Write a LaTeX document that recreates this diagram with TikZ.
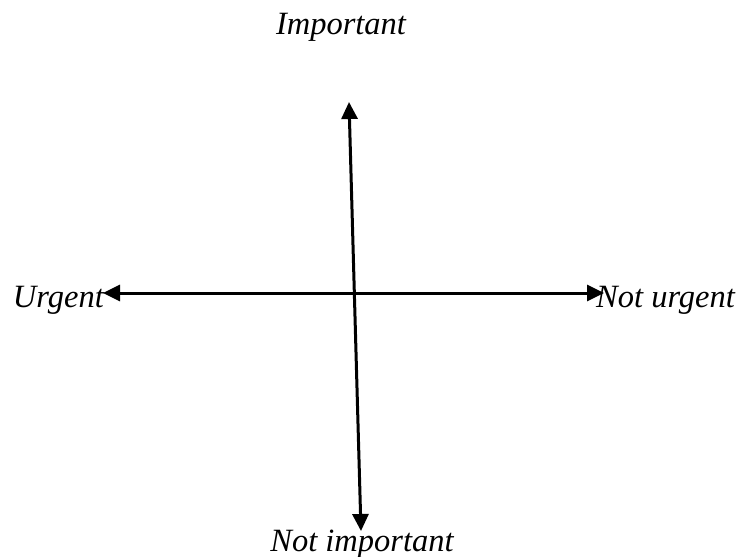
\documentclass[tikz,border=0pt]{standalone}
\usepackage{fontspec}
\setmainfont{Liberation Serif}
\usetikzlibrary{arrows.meta}
\tikzset{
  axis/.style={line width=3pt, {Triangle[length=17pt,width=16pt]}-{Triangle[length=17pt,width=16pt]}},
  lbl/.style={inner sep=0pt, font=\fontsize{32.5}{38}\selectfont\itshape}
}
\begin{document}
\begin{tikzpicture}[x=1pt,y=-1pt]
\useasboundingbox (0,0) rectangle (740,557);
\node[lbl] (imp) at (341,27) {Important};
\node[lbl] (nimp) at (362,544) {Not important};
\node[lbl, anchor=east] (urg) at (104,300) {Urgent};
\node[lbl, anchor=west] (nurg) at (596,300) {Not urgent};
\coordinate (L) at (103,293);
\coordinate (R) at (604,293);
\coordinate (T) at (349,102);
\coordinate (B) at (361,531);
\draw[axis] (L) -- (R);
\draw[axis] (T) -- (B);
\end{tikzpicture}
\end{document}
